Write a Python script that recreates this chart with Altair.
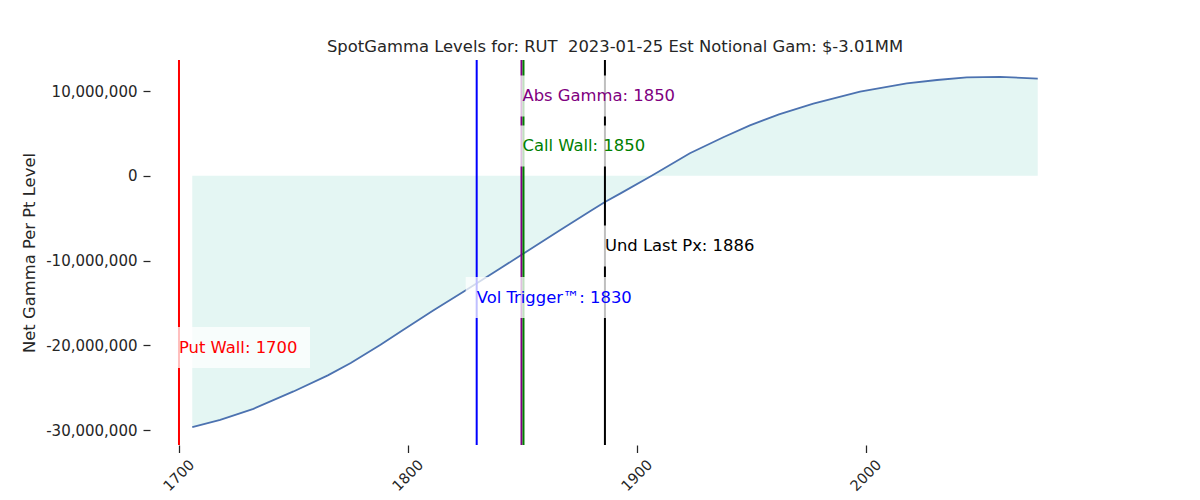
import altair as alt
import pandas as pd

# ---- data ----
strikes = [1705.8, 1718.0, 1732.5, 1750.0, 1765.0, 1775.0, 1788.0, 1797.0, 1811.0,
           1825.6, 1840.2, 1850.3, 1866.0, 1879.5, 1886.0, 1893.0, 1906.4, 1923.1,
           1937.7, 1949.3, 1962.0, 1977.0, 1997.4, 2017.8, 2031.0, 2044.0, 2058.5,
           2075.0]
gamma_mm = [-29.65, -28.8, -27.5, -25.45, -23.55, -22.1, -19.95, -18.35, -15.9,
            -13.45, -10.95, -9.2, -6.5, -4.2, -3.1, -2.05, 0.0, 2.65,
            4.55, 5.95, 7.25, 8.5, 9.94, 10.9, 11.3, 11.6, 11.67,
            11.47]

level_names = ["Put Wall", "Vol Trigger\u2122", "Abs Gamma", "Call Wall", "Und Last Px"]
level_values = [1700, 1830, 1850, 1850, 1886]
label_y_mm = [-20.27, -14.37, 9.41, 3.51, -8.29]

y_ticks = [-30000000, -20000000, -10000000, 0, 10000000]
x_ticks = [1700, 1800, 1900, 2000]

title_text = "SpotGamma Levels for: RUT \u00a02023-01-25 Est Notional Gam: $-3.01MM"

# ---- styles ----
level_colors = ["#ff0000", "#0000ff", "#800080", "#008000", "#000000"]
line_offsets = [0, 0, -1, 1, 0]
label_widths = [120, 157, 154, 124, 151]
FONT = "DejaVu Sans"
INK = "#262626"

curve = pd.DataFrame({"strike": strikes, "gamma": [g * 1e6 for g in gamma_mm]})

xs = alt.Scale(domain=[1687.34, 2093.45], nice=False, zero=False)
ys = alt.Scale(domain=[-31770000, 13660000], nice=False, zero=False)

x_axis = alt.Axis(values=x_ticks, labelExpr="format(datum.value, 'd')", title=None,
                  domain=False, grid=False, ticks=True, tickSize=7.5, tickColor=INK,
                  tickWidth=1.25, labelAngle=315, labelAlign="center",
                  labelBaseline="middle", labelPadding=23, labelFontSize=14.5,
                  labelColor=INK, labelFont=FONT)
y_axis = alt.Axis(values=y_ticks,
                  labelExpr="(datum.value < 0 ? '-' : '') + format(abs(datum.value), ',')",
                  title="Net Gamma Per Pt Level",
                  domain=False, grid=False, ticks=True, tickSize=7, tickColor=INK,
                  tickWidth=1.25, labelPadding=6, labelFontSize=15, labelColor=INK,
                  labelFont=FONT, titleFont=FONT, titleFontSize=16.4,
                  titleFontWeight="normal", titleColor=INK, titleX=-121, titleY=192.5,
                  titleBaseline="middle")

area = alt.Chart(curve).mark_area(color="#e4f6f3", opacity=1).encode(
    x=alt.X("strike:Q", scale=xs, axis=x_axis),
    y=alt.Y("gamma:Q", scale=ys, axis=y_axis),
    y2=alt.datum(0),
)

line = alt.Chart(curve).mark_line(color="#4c72b0", strokeWidth=1.8).encode(
    x=alt.X("strike:Q", scale=xs, axis=x_axis),
    y=alt.Y("gamma:Q", scale=ys, axis=y_axis),
)

layers = [area, line]

for i in range(len(level_names)):
    df = pd.DataFrame({"level": [level_values[i]]})
    layers.append(
        alt.Chart(df).mark_rule(color=level_colors[i], strokeWidth=2,
                                xOffset=line_offsets[i]).encode(
            x=alt.X("level:Q", scale=xs, axis=x_axis))
    )

for i in range(len(level_names)):
    df = pd.DataFrame({
        "level": [level_values[i]],
        "ly": [label_y_mm[i] * 1e6],
        "label": [f"{level_names[i]}: {level_values[i]}"],
    })
    box = alt.Chart(df).mark_rect(color="white", opacity=0.75, xOffset=-11,
                                  x2Offset=label_widths[i] + 11,
                                  yOffset=-20.5, y2Offset=20.5).encode(
        x=alt.X("level:Q", scale=xs, axis=x_axis), x2="level:Q",
        y=alt.Y("ly:Q", scale=ys, axis=y_axis), y2="ly:Q",
    )
    txt = alt.Chart(df).mark_text(align="left", baseline="middle", font=FONT,
                                  fontSize=16.4, color=level_colors[i]).encode(
        x=alt.X("level:Q", scale=xs, axis=x_axis),
        y=alt.Y("ly:Q", scale=ys, axis=y_axis),
        text="label:N",
    )
    layers += [box, txt]

chart = alt.layer(*layers).properties(
    width=930, height=385,
    background="white",
    autosize=alt.AutoSizeParams(type="none"),
    padding={"left": 142, "top": 52, "right": 112, "bottom": 52},
    title=alt.TitleParams(title_text, font=FONT, fontSize=16.4, fontWeight="normal",
                          color=INK, anchor="middle", offset=4),
).configure_view(stroke="transparent", strokeWidth=0)

chart.save("out.html", embed_options={"renderer": "svg", "actions": False})
